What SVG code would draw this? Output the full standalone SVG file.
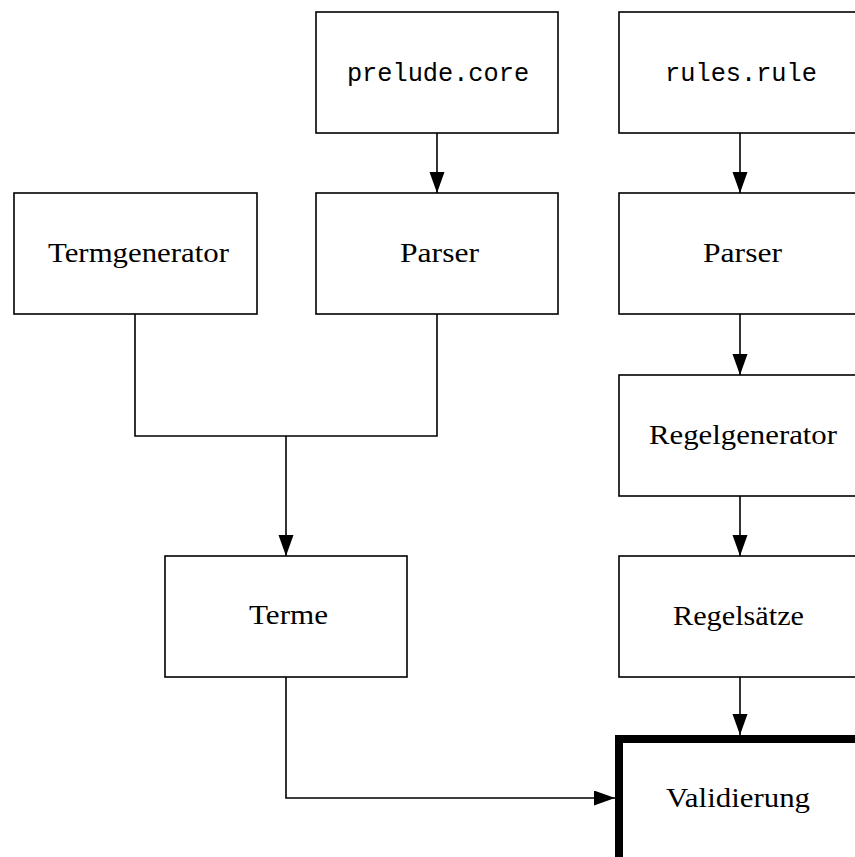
<svg xmlns="http://www.w3.org/2000/svg" width="855" height="857" viewBox="0 0 855 857">
<defs>
<marker id="arr" markerUnits="userSpaceOnUse" markerWidth="22" markerHeight="16" refX="21" refY="7.5" orient="auto">
<path d="M0,0 L21,7.5 L0,15 z" fill="#000"/>
</marker>
<style>
.box{fill:#fff;stroke:#000;stroke-width:1.6}
.thick{fill:#fff;stroke:#000;stroke-width:8}
.lbl{font-family:"Liberation Serif","DejaVu Serif",serif;font-size:28px;fill:#000;text-anchor:middle}
.mono{font-family:"Liberation Mono","DejaVu Sans Mono",monospace;font-size:25.3px;fill:#000;text-anchor:middle}
.con{fill:none;stroke:#000;stroke-width:1.6}
</style>
</defs>
<rect width="855" height="857" fill="#fff"/>
<g id="connectors">
<path class="con" d="M437,133 V193" marker-end="url(#arr)"/>
<path class="con" d="M740,133 V193" marker-end="url(#arr)"/>
<path class="con" d="M740,314 V375" marker-end="url(#arr)"/>
<path class="con" d="M740,496 V556" marker-end="url(#arr)"/>
<path class="con" d="M740,677 V735" marker-end="url(#arr)"/>
<path class="con" d="M135,314 V436 H437 V314"/>
<path class="con" d="M286,436 V556" marker-end="url(#arr)"/>
<path class="con" d="M286,677 V798 H615" marker-end="url(#arr)"/>
</g>
<g id="prelude">
<rect class="box" x="316" y="12" width="242" height="121"/>
<text class="mono" x="438" y="81">prelude.core</text>
</g>
<g id="rules">
<rect class="box" x="619" y="12" width="242" height="121"/>
<text class="mono" x="741" y="81">rules.rule</text>
</g>
<g id="termgenerator">
<rect class="box" x="14" y="193" width="243" height="121"/>
<text class="lbl" x="138.5" y="262" textLength="181" lengthAdjust="spacingAndGlyphs">Termgenerator</text>
</g>
<g id="parser1">
<rect class="box" x="316" y="193" width="242" height="121"/>
<text class="lbl" x="439.5" y="262" textLength="79" lengthAdjust="spacingAndGlyphs">Parser</text>
</g>
<g id="parser2">
<rect class="box" x="619" y="193" width="242" height="121"/>
<text class="lbl" x="742.5" y="262" textLength="79" lengthAdjust="spacingAndGlyphs">Parser</text>
</g>
<g id="regelgenerator">
<rect class="box" x="619" y="375" width="242" height="121"/>
<text class="lbl" x="743" y="444" textLength="188" lengthAdjust="spacingAndGlyphs">Regelgenerator</text>
</g>
<g id="terme">
<rect class="box" x="165" y="556" width="242" height="121"/>
<text class="lbl" x="288.5" y="624" textLength="79" lengthAdjust="spacingAndGlyphs">Terme</text>
</g>
<g id="regelsaetze">
<rect class="box" x="619" y="556" width="242" height="121"/>
<text class="lbl" x="738.5" y="625" textLength="131" lengthAdjust="spacingAndGlyphs">Regelsätze</text>
</g>
<g id="validierung">
<rect class="thick" x="619" y="739" width="242" height="125"/>
<text class="lbl" x="738" y="807" textLength="144" lengthAdjust="spacingAndGlyphs">Validierung</text>
</g>
</svg>
